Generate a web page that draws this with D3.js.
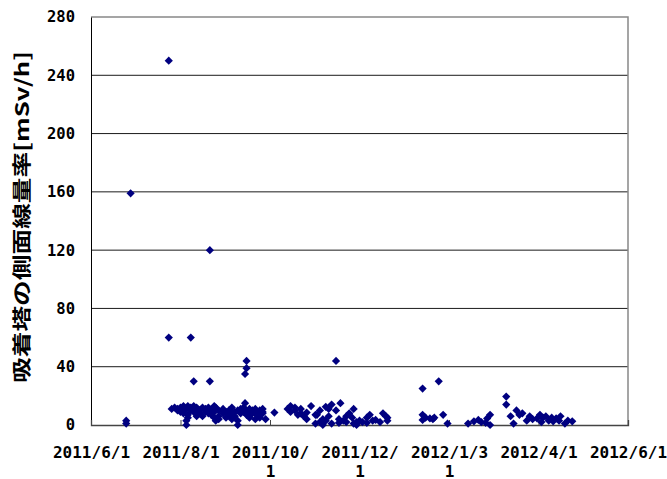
<!DOCTYPE html>
<html lang="ja">
<head>
<meta charset="utf-8">
<title>吸着塔の側面線量率</title>
<script src="https://d3js.org/d3.v7.min.js"></script>
<style>
  body { margin: 0; background: #fff; }
  .tick text { font-family: "DejaVu Sans Mono", monospace; font-weight: bold; fill: #000; }
</style>
</head>
<body>
<div id="chart"></div>
<script>
// sampling dates and the readings taken on each date (mSv/h)
const sampleDates = [
  "2011/6/25", "2011/6/28",
  "2011/7/24", "2011/7/26", "2011/7/28", "2011/7/30", "2011/8/1", "2011/8/3", "2011/8/5", "2011/8/6",
  "2011/8/8", "2011/8/10", "2011/8/12", "2011/8/14", "2011/8/16", "2011/8/18", "2011/8/20", "2011/8/21",
  "2011/8/22", "2011/8/24", "2011/8/25", "2011/8/27", "2011/8/30", "2011/9/1", "2011/9/3", "2011/9/5",
  "2011/9/7", "2011/9/9", "2011/9/11", "2011/9/13", "2011/9/14", "2011/9/15", "2011/9/17", "2011/9/19",
  "2011/9/21", "2011/9/22", "2011/9/24", "2011/9/26", "2011/9/28", "2011/10/4",
  "2011/10/13", "2011/10/15", "2011/10/18", "2011/10/20", "2011/10/22", "2011/10/24", "2011/10/26",
  "2011/10/29", "2011/11/1", "2011/11/2", "2011/11/4", "2011/11/6", "2011/11/8", "2011/11/10",
  "2011/11/12", "2011/11/15", "2011/11/17", "2011/11/18", "2011/11/20", "2011/11/22", "2011/11/24",
  "2011/11/26", "2011/11/27", "2011/11/29", "2011/12/1", "2011/12/3", "2011/12/6", "2011/12/8",
  "2011/12/10", "2011/12/12", "2011/12/15", "2011/12/17", "2011/12/19", "2011/12/20",
  "2012/1/13", "2012/1/15", "2012/1/18", "2012/1/20", "2012/1/21", "2012/1/24", "2012/1/27", "2012/1/30",
  "2012/2/13", "2012/2/17", "2012/2/20", "2012/2/22", "2012/2/25", "2012/2/26", "2012/2/28",
  "2012/3/10", "2012/3/13", "2012/3/15", "2012/3/17", "2012/3/19", "2012/3/21", "2012/3/24", "2012/3/26",
  "2012/3/28", "2012/3/31", "2012/4/2", "2012/4/3", "2012/4/4", "2012/4/6", "2012/4/8", "2012/4/10",
  "2012/4/11", "2012/4/13", "2012/4/15", "2012/4/16", "2012/4/19", "2012/4/21", "2012/4/24"
];
const sampleValues = [
  [3, 1], [159],
  [60, 250], [11], [12], [11, 10], [12, 9], [13, 10, 8], [11, 0, 3], [13, 7, 5],
  [60, 10, 12], [30, 13, 9], [11, 12, 6], [10, 8], [12, 6], [9, 11], [8, 12, 10], [120, 30],
  [7, 10], [13, 5, 9], [12, 3], [10, 6, 4], [8, 11], [9, 5], [10, 7], [12, 8, 4],
  [9, 6], [10, 0, 3], [11, 8], [9, 12], [15, 35], [44, 39, 7, 10], [9, 5, 11], [8, 10],
  [11, 4], [9, 7], [10, 5], [8, 11, 9], [4], [8.5],
  [11], [9, 13], [10, 12], [7], [8, 11], [6], [8.5, 4],
  [13], [1, 7], [7], [2, 10], [0, 4], [12.5, 3], [6, 11],
  [14, 1], [44, 10], [1.5, 4], [15], [3], [2, 6], [8],
  [5], [11, 1], [2, 0], [3], [2], [1.5, 5], [7],
  [3], [3.5], [2], [8], [6], [5, 3],
  [25, 7, 3.5], [5], [4.5], [4], [5], [30], [7], [1],
  [1], [2.5], [3.5], [2], [1.5], [4.5], [7, 0],
  [19.5, 14], [6], [1], [10], [7], [8], [3], [6],
  [4], [4.5], [7], [2], [5], [6], [3], [5],
  [2.5], [4.5], [3], [6], [1], [3], [2.5]
];
const xTickDates = ["2011/6/1", "2011/8/1", "2011/10/1", "2011/12/1", "2012/1/31", "2012/4/1", "2012/6/1"];
const yTicks = [0, 40, 80, 120, 160, 200, 240, 280];
const yTitle = "吸着塔の側面線量率[mSv/h]";

const width = 667, height = 479;
const margin = {top: 17, right: 39, bottom: 54, left: 91};
const innerW = width - margin.left - margin.right;
const innerH = height - margin.top - margin.bottom;

const parse = d3.timeParse("%Y/%-m/%-d");
const points = [];
sampleDates.forEach(function(d, i) {
  sampleValues[i].forEach(function(v) {
    points.push({date: parse(d), value: v});
  });
});

const svg = d3.select("#chart").append("svg")
  .attr("width", width)
  .attr("height", height);

const g = svg.append("g")
  .attr("transform", "translate(" + margin.left + "," + margin.top + ")");

const x = d3.scaleTime()
  .domain([parse("2011/6/1"), parse("2012/6/1")])
  .range([0, innerW]);
const y = d3.scaleLinear()
  .domain([0, 280])
  .range([innerH, 0]);

// horizontal gridlines
g.append("g")
  .selectAll("line")
  .data(yTicks.filter(function(t) { return t > 0 && t < 280; }))
  .enter().append("line")
  .attr("x1", 0).attr("x2", innerW)
  .attr("y1", function(d) { return y(d); })
  .attr("y2", function(d) { return y(d); })
  .attr("stroke", "#1a1a1a")
  .attr("stroke-width", 1);

// top and right border
g.append("path")
  .attr("d", "M0," + y(280) + "H" + innerW + "V" + innerH)
  .attr("fill", "none")
  .attr("stroke", "#888")
  .attr("stroke-width", 1.5);

// y axis
const yaxis = d3.axisLeft(y)
  .tickValues(yTicks)
  .tickSize(0)
  .tickPadding(16);
const yg = g.append("g").call(yaxis);
yg.select(".domain").attr("stroke", "#000");
yg.selectAll(".tick text").style("font-size", "15.5px");

// x axis
const xaxis = d3.axisBottom(x)
  .tickValues(xTickDates.map(parse))
  .tickSize(-5)
  .tickFormat(d3.timeFormat("%Y/%-m/%-d"));
const xg = g.append("g")
  .attr("transform", "translate(0," + innerH + ")")
  .call(xaxis);
xg.select(".domain").attr("stroke", "#444").attr("stroke-width", 1.3);
xg.selectAll(".tick line").attr("stroke", "#444");
xg.selectAll(".tick text")
  .style("font-size", "16px")
  .attr("y", 0)
  .attr("dy", null)
  .each(function() {
    const t = d3.select(this);
    const s = t.text();
    t.text(null);
    t.append("tspan").attr("x", 0).attr("y", 33).text(s.slice(0, 8));
    if (s.length > 8) {
      t.append("tspan").attr("x", 0).attr("y", 51.5).text(s.slice(8));
    }
  });

// markers
const diamond = "M0,-4.1L4.1,0L0,4.1L-4.1,0Z";
g.append("g")
  .selectAll("path")
  .data(points)
  .enter().append("path")
  .attr("d", diamond)
  .attr("transform", function(d) { return "translate(" + x(d.date) + "," + y(d.value) + ")"; })
  .attr("fill", "#000080");

// y title
svg.append("text")
  .attr("transform", "translate(29," + (margin.top + innerH / 2 - 4) + ") rotate(-90)")
  .attr("text-anchor", "middle")
  .attr("textLength", 332)
  .attr("lengthAdjust", "spacingAndGlyphs")
  .style("font-family", "'Noto Sans CJK JP', sans-serif")
  .style("font-weight", "bold")
  .style("font-size", "19px")
  .text(yTitle);
</script>
</body>
</html>
